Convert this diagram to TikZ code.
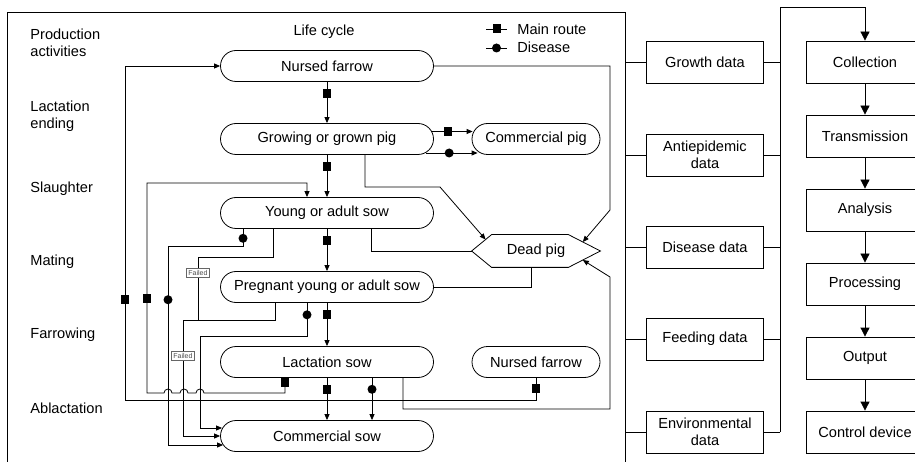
\documentclass[tikz,border=0pt]{standalone}
\usepackage{fontspec}
\setmainfont{Liberation Sans}
\usetikzlibrary{calc,arrows.meta}

\tikzset{
	lifebox/.style={draw, rounded corners=15.5pt, minimum width=213pt, minimum height=31pt, inner sep=0pt},
	hexbox/.style={minimum width=128pt, minimum height=32pt, inner sep=0pt},
	databox/.style={draw, minimum width=117pt, minimum height=42pt, align=center, inner sep=0pt},
	stepbox/.style={draw, minimum width=118pt, minimum height=42pt, inner sep=0pt},
	sidelabel/.style={anchor=west, align=left, inner sep=0pt},
	sqmark/.style={fill=black, inner sep=0pt, minimum width=8pt, minimum height=9pt},
	dotmark/.style={circle, fill=black, inner sep=0pt, minimum size=9pt},
	failbox/.style={draw=black!60, fill=white, inner sep=1.6pt, text=black!70, font=\fontsize{7}{8}\selectfont},
	route/.style={-{Triangle[length=6pt,width=5pt]}},
	flow/.style={-{Triangle[length=9pt,width=9pt]}},
}

\begin{document}
\begin{tikzpicture}[x=1pt, y=-1pt, line width=0.8pt, font=\fontsize{14.6}{17.5}\selectfont]
			%%%%% START %%%%%
			\useasboundingbox (0,0) rectangle (915,462);
			
			\draw (7,463) -- (7,12) -- (625,12) -- (625,463);
			
			\node[sidelabel] (pa) at (30,43) {Production\\activities};
			\node[sidelabel] (le) at (30,116) {Lactation\\ending};
			\node[sidelabel] (sl) at (30,189) {Slaughter};
			\node[sidelabel] (ma) at (30,262) {Mating};
			\node[sidelabel] (fa) at (30,335) {Farrowing};
			\node[sidelabel] (ab) at (30,408) {Ablactation};
			
			\node (lc) at (324,32) {Life cycle};
			\draw (486,29) -- node[sqmark]{} (507,29);
			\draw (486,48) -- node[dotmark]{} (507,48);
			\node[sidelabel] (lgmain) at (517,29) {Main route};
			\node[sidelabel] (lgdis) at (517,47) {Disease};
			
			\node[lifebox] (nf) at (327,66) {Nursed farrow};
			\node[lifebox] (gp) at (327,139) {Growing or grown pig};
			\node[lifebox, minimum width=128pt] (cp) at (536,139) {Commercial pig};
			\node[lifebox] (ys) at (327,213) {Young or adult sow};
			\node[lifebox] (ps) at (327,287) {Pregnant young or adult sow};
			\node[lifebox] (ls) at (327,362) {Lactation sow};
			\node[lifebox, minimum width=128pt] (nf2) at (536,362) {Nursed farrow};
			\node[lifebox] (cs) at (327,436) {Commercial sow};
			
			\node[hexbox] (dead) at (536,251) {Dead pig};
			\draw (dead.west) -- coordinate[pos=0.7] (deadul) ([xshift=20pt]dead.north west) -- ([xshift=-32pt]dead.north east) -- coordinate[pos=0.45] (deadur) (dead.east) -- coordinate[pos=0.55] (deadlr) ([xshift=-32pt]dead.south east) -- ([xshift=20pt]dead.south west) -- cycle;
			
			% main route down the column
			\draw[route] (nf) -- node[sqmark,pos=0.27]{} (gp);
			\draw[route] (gp) -- node[sqmark,pos=0.27]{} (ys);
			\draw[route] (ys) -- node[sqmark,pos=0.28]{} (ps);
			\draw[route] (ps) -- node[sqmark,pos=0.28]{} (ls);
			\draw[route] (ls) -- node[sqmark,pos=0.27]{} (cs);
			\draw[route] ([xshift=45pt]ls.south) -- node[dotmark,pos=0.27]{} ([xshift=45pt]cs.north);
			
			\draw[route] ($(gp.east)+(-2,-7.5)$) -- node[sqmark,pos=0.4]{} ($(cp.west)+(1,-7.5)$);
			\draw[route] ($(gp.east)+(-8,14)$) -- node[dotmark,pos=0.45]{} ($(cp.west)+(6,14)$);
			
			% to and from the dead pig
			\draw[route] ([xshift=38pt]gp.south) |- (440,187) -- (deadul);
			\draw[route] (nf.east) -| (610,210) -- (deadur);
			\draw[route] ([xshift=76pt]ls.south) |- (610,409) -- (610,277) -- (deadlr);
			\draw ([xshift=44pt]ys.south) |- (dead.west);
			\draw ([xshift=-5pt]dead.south) |- (ps.east);
			
			% back loops on the left
			\draw[route] (nf2.south) -- node[sqmark]{} (536,400) -- (125,400) -- node[sqmark,pos=0.3]{} (125,66) -- (nf.west);
			\draw[route] ([xshift=-42pt]ls.south) -- node[sqmark,pos=0.33]{} (285,393) -- (204,393) arc (0:180:4pt) -- (188,393) arc (0:180:4pt) -- (172,393) arc (0:180:4pt) -- (147,393) -- node[sqmark,pos=0.45]{} (147,183) -| ([xshift=-20pt]ys.north);
			\draw[route] ([xshift=-84pt]ys.south) -- node[dotmark,pos=0.55]{} (243,246) -- (168,246) -- node[dotmark,pos=0.27]{} (168,445) -- ($(cs.west)+(3,9)$);
			\draw ([xshift=-54pt]ys.south) -- (273,257) -- (198,257) -- node[failbox,pos=0.25]{Failed} (198,320);
			\draw[route] ([xshift=-52pt]ps.south) -- (275,320) -- (183,320) -- node[failbox,pos=0.31]{Failed} (183,436) -- (cs.west);
			\draw[route] ([xshift=-20pt]ps.south) -- node[dotmark,pos=0.36]{} (307,336) -- (200,336) -- (200,428) -- ($(cs.west)+(2,-8)$);
			
			% data and processing
			\node[databox] (gd) at (705,62) {Growth data};
			\node[databox] (ad) at (705,155) {Antiepidemic\\data};
			\node[databox] (dd) at (705,247) {Disease data};
			\node[databox] (fd) at (705,339) {Feeding data};
			\node[databox] (ed) at (705,432) {Environmental\\data};
			\foreach \n/\y in {gd/62, ad/155, dd/247, fd/339, ed/432}{
				\draw (625,\y) -- (\n.west);
				\draw (\n.east) -- (780,\y);
			}
			
			\node[stepbox] (col) at (865,62) {Collection};
			\node[stepbox] (tra) at (865,136) {Transmission};
			\node[stepbox] (ana) at (865,210) {Analysis};
			\node[stepbox] (pro) at (865,284) {Processing};
			\node[stepbox] (out) at (865,358) {Output};
			\node[stepbox] (ctl) at (865,432) {Control device};
			\draw[flow] (780,432) -- (780,7) -| (col.north);
			\foreach \a/\b in {col/tra, tra/ana, ana/pro, pro/out, out/ctl}
				\draw[flow] (\a) -- (\b);
			
			%%%%% END %%%%%
\end{tikzpicture}
\end{document}
